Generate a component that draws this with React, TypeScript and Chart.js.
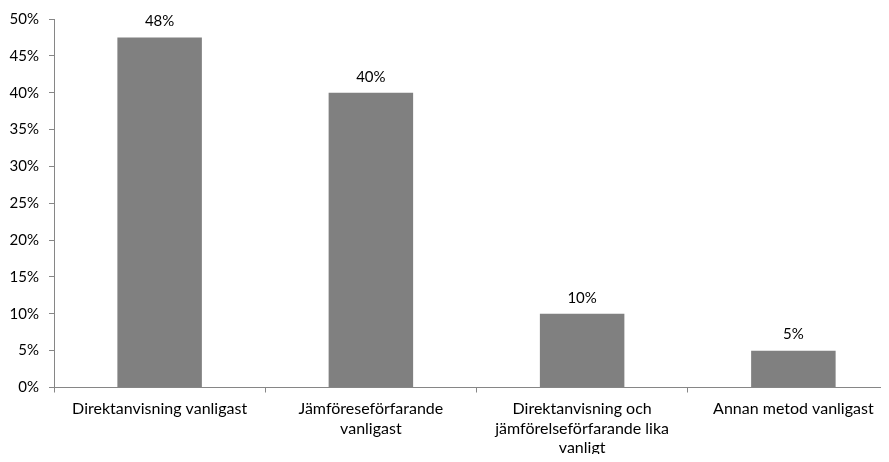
import React, { useEffect, useRef } from "react";
import { Chart, registerables } from "chart.js";

Chart.register(...registerables);

// Survey shares per method category
const categories: (string | string[])[] = [
  "Direktanvisning vanligast",
  ["Jämföreseförfarande", "vanligast"],
  ["Direktanvisning och", "jämförelseförfarande lika", "vanligt"],
  "Annan metod vanligast",
];
const shares = [47.5, 40, 10, 5];
const yTicks = [0, 5, 10, 15, 20, 25, 30, 35, 40, 45, 50];

const FONT = "Lato, 'Open Sans', 'Liberation Sans', sans-serif";
const AXIS_COLOR = "#868686";

const valueLabels = {
  id: "valueLabels",
  afterDatasetsDraw(chart: Chart) {
    const ctx = chart.ctx;
    const meta = chart.getDatasetMeta(0);
    ctx.save();
    ctx.font = `15px ${FONT}`;
    ctx.fillStyle = "#000";
    ctx.textAlign = "center";
    ctx.textBaseline = "middle";
    meta.data.forEach((el: any, i: number) => {
      const v = chart.data.datasets[0].data[i] as number;
      ctx.fillText(`${Math.round(v)}%`, el.x, el.y - 16);
    });
    ctx.restore();
  },
};

export default function App() {
  const ref = useRef<HTMLCanvasElement>(null);

  useEffect(() => {
    if (!ref.current) return;
    const chart = new Chart(ref.current, {
      type: "bar",
      data: {
        labels: categories,
        datasets: [
          {
            data: shares,
            backgroundColor: "#808080",
            barPercentage: 0.4,
            categoryPercentage: 1,
          },
        ],
      },
      options: {
        animation: false,
        responsive: false,
        maintainAspectRatio: false,
        layout: { padding: { top: 17, right: 0, left: 0, bottom: 0 } },
        plugins: {
          legend: { display: false },
          tooltip: { enabled: false },
        },
        scales: {
          x: {
            grid: {
              offset: true,
              drawOnChartArea: false,
              drawTicks: true,
              tickLength: 5,
              color: AXIS_COLOR,
            },
            border: { color: AXIS_COLOR, width: 1 },
            ticks: {
              color: "#000",
              font: { family: FONT, size: 16, lineHeight: 1.22 },
              padding: 7,
              maxRotation: 0,
              autoSkip: false,
            },
            afterFit(scale: any) {
              scale.height = 74.5;
            },
          },
          y: {
            min: 0,
            max: 50,
            afterBuildTicks(scale: any) {
              scale.ticks = yTicks.map((v) => ({ value: v }));
            },
            grid: {
              drawOnChartArea: false,
              drawTicks: true,
              tickLength: 5,
              color: AXIS_COLOR,
            },
            border: { color: AXIS_COLOR, width: 1 },
            ticks: {
              color: "#000",
              font: { family: FONT, size: 15 },
              padding: 10,
              callback: (v: any) => `${v}%`,
            },
            afterFit(scale: any) {
              scale.width = 54;
            },
          },
        },
      },
      plugins: [valueLabels],
    });
    return () => chart.destroy();
  }, []);

  return (
    <div
      style={{
        margin: -8,
        width: 889,
        height: 462,
        overflow: "hidden",
        background: "#fff",
        position: "relative",
      }}
    >
      <canvas ref={ref} width={899} height={462} style={{ display: "block" }} />
    </div>
  );
}
